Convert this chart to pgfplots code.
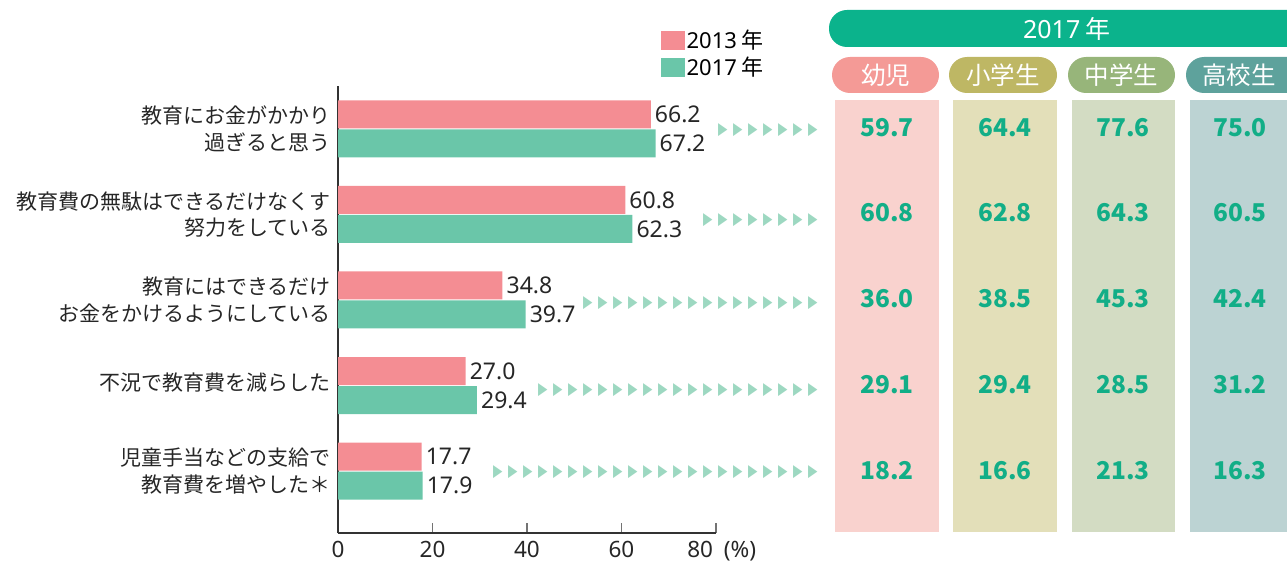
\documentclass[border=0pt]{standalone}
\usepackage{fontspec}
\setmainfont{Noto Sans CJK JP}
\newfontfamily\nsans{Noto Sans}
\newfontfamily\dejavu{DejaVu Sans}
\usepackage{pgfplots}
\pgfplotsset{compat=1.18}
\usepackage{pgfplotstable}

\definecolor{c13}{HTML}{F48D93}
\definecolor{c17}{HTML}{6AC6A9}
\definecolor{hdr}{HTML}{0BB38C}
\definecolor{valc}{HTML}{12AE87}
\definecolor{tric}{HTML}{9DD8C1}
\definecolor{p1}{HTML}{F49A96}
\definecolor{p2}{HTML}{BEB764}
\definecolor{p3}{HTML}{97B57A}
\definecolor{p4}{HTML}{5EA29C}
\definecolor{b1}{HTML}{F9D2CE}
\definecolor{b2}{HTML}{E3DFB9}
\definecolor{b3}{HTML}{D3DCC3}
\definecolor{b4}{HTML}{BCD3D3}
\definecolor{axc}{HTML}{333333}

\pgfplotstableread{
y v13 v17
4 66.2 67.2
3 60.8 62.3
2 34.8 39.7
1 27.0 29.4
0 17.7 17.9
}\bars

\newcommand\tris[1]{\foreach \i in {1,...,#1}{\makebox[15pt]{\scalebox{0.72}[1]{▶}}}}

\begin{document}
\begin{tikzpicture}
\path[use as bounding box] (0,0) rectangle (1287pt,563pt);

\begin{axis}[
  at={(338pt,30pt)}, anchor=south west,
  scale only axis, width=378pt, height=447pt,
  xmin=0, xmax=80, ymin=-0.723, ymax=4.50,
  axis x line*=bottom, axis y line*=left,
  axis line style={draw=axc, line width=1.4pt},
  xtick={0,20,40,60,80},
  xticklabels={0,20,40,60,{\makebox[0pt][r]{80\hspace{3pt}}\makebox[0pt][l]{\hspace{8pt}(\%)}}},
  tick align=inside,
  major tick length=10pt,
  x tick style={draw=black!55, line width=1.2pt},
  y tick style={draw=none},
  ytick={0,1,2,3,4},
  yticklabels={
    {児童手当などの支給で\\教育費を増やした＊},
    {\raisebox{8pt}{不況で教育費を減らした}},
    {教育にはできるだけ\\お金をかけるようにしている},
    {教育費の無駄はできるだけなくす\\努力をしている},
    {教育にお金がかかり\\過ぎると思う}},
  yticklabel style={align=right, font=\fontsize{21}{26.5}\selectfont, inner sep=0pt, xshift=3pt, text=black!85},
  xticklabel style={font=\nsans\fontsize{22.5}{25}\selectfont, text=black!85, inner sep=0pt, yshift=-8pt},
  /pgf/number format/assume math mode=true,
  xbar, bar width=28pt,
  point meta=x,
  nodes near coords,
  nodes near coords style={font=\nsans\fontsize{23}{26}\selectfont, text=black!85, anchor=west, inner sep=4pt,
    /pgf/number format/.cd, fixed, fixed zerofill, precision=1},
  legend style={at={(axis description cs:0.853,1.13)}, anchor=north west, draw=none, fill=none,
    font=\fontsize{22}{24}\selectfont, row sep=3pt, inner sep=0pt, nodes={inner sep=2pt}},
  legend cell align=left,
  clip=false,
]
\addplot[fill=c13, draw=none, bar shift=14.5pt,
  legend image code/.code={\fill[c13] (0pt,-9.5pt) rectangle (24pt,9.5pt);}]
  table[x=v13, y=y] {\bars};
\addlegendentry{{\nsans 2013} 年}
\addplot[fill=c17, draw=none, bar shift=-14.5pt,
  legend image code/.code={\fill[c17] (0pt,-9.5pt) rectangle (24pt,9.5pt);}]
  table[x=v17, y=y] {\bars};
\addlegendentry{{\nsans 2017} 年}
\end{axis}

\begin{scope}[x=1pt, y=-1pt, yshift=563pt]
% triangles
\begin{scope}[every node/.style={anchor=east, inner sep=0pt, text=tric, font=\dejavu\fontsize{17}{17}\selectfont}]
\node at (820.5,130) {\tris{7}};
\node at (820.5,220) {\tris{8}};
\node at (820.5,303) {\tris{16}};
\node at (820.5,390) {\tris{19}};
\node at (820.5,472) {\tris{22}};
\end{scope}

% right panel
\fill[hdr, rounded corners=18pt] (829,10) rectangle (1310,47);
\node[text=white, font=\fontsize{25}{28}\selectfont] at (1067,28.5) {{\nsans 2017} 年};

\fill[p1, rounded corners=18pt] (832,57) rectangle (939,93);
\fill[p2, rounded corners=18pt] (949,57) rectangle (1057,93);
\fill[p3, rounded corners=18pt] (1068,57) rectangle (1175,93);
\fill[p4, rounded corners=18pt] (1186,57) rectangle (1310,93);
\begin{scope}[every node/.style={text=white, font=\fontsize{24.5}{26}\selectfont}]
\node at (885.5,75) {幼児};
\node at (1003,75) {小学生};
\node at (1121.5,75) {中学生};
\node at (1239,75) {高校生};
\end{scope}

\fill[b1] (835,100) rectangle (939,532);
\fill[b2] (953,100) rectangle (1057,532);
\fill[b3] (1072,100) rectangle (1175,532);
\fill[b4] (1190,100) rectangle (1290,532);

\begin{scope}[every node/.style={text=valc, font=\bfseries\fontsize{24.5}{28}\selectfont}]
\foreach \y/\a/\b/\c/\d in {128/59.7/64.4/77.6/75.0, 213/60.8/62.8/64.3/60.5, 299/36.0/38.5/45.3/42.4, 385/29.1/29.4/28.5/31.2, 471/18.2/16.6/21.3/16.3}{
  \node at (887,\y) {\a};
  \node at (1005,\y) {\b};
  \node at (1123,\y) {\c};
  \node at (1240,\y) {\d};
}
\end{scope}
\end{scope}
\end{tikzpicture}
\end{document}
